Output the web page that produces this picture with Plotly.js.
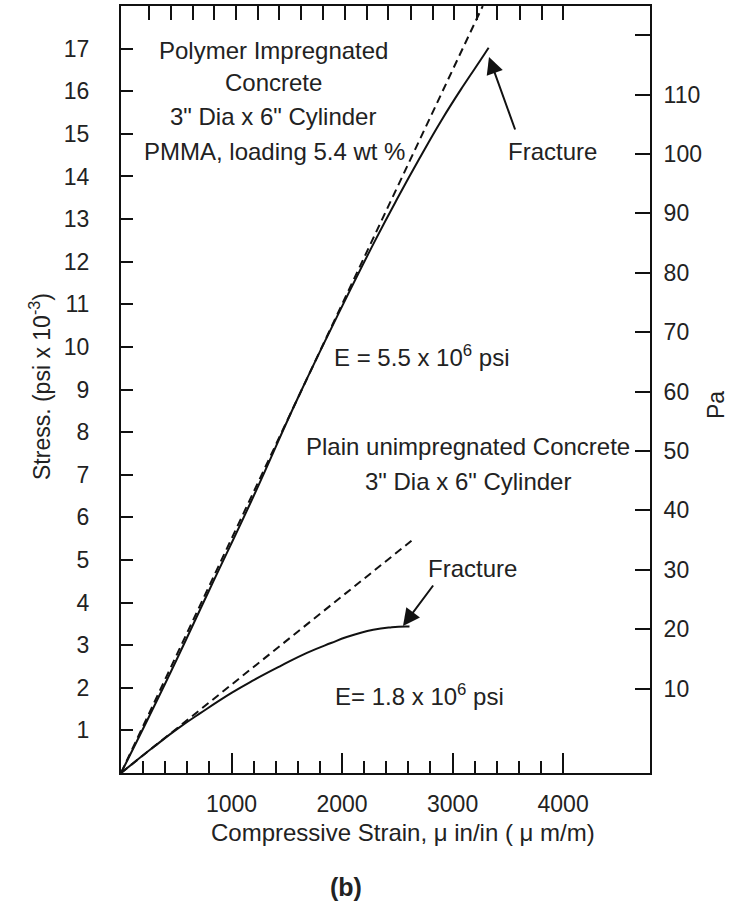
<!DOCTYPE html>
<html>
<head>
<meta charset="utf-8">
<script src="https://cdn.plot.ly/plotly-3.0.1.min.js"></script>
<style>html,body{margin:0;padding:0;background:#fff;}#chart{width:734px;height:903px;}</style>
</head>
<body>
<div id="chart"></div>
<script>
// ---- data ----
const pmmaStrain   = [0, 400, 800, 1200, 1600, 2000, 2300, 2500, 2700, 2900, 3100, 3250, 3326];
const pmmaStress   = [0, 2.1, 4.3, 6.5, 8.8, 10.95, 12.5, 13.48, 14.42, 15.32, 16.14, 16.72, 17.02];
const pmmaTanStrain = [0, 3273];
const pmmaTanStress = [0, 18];
const plainStrain  = [0, 300, 513, 721, 1000, 1201, 1450, 1682, 1900, 2042, 2282, 2450, 2583, 2610];
const plainStress  = [0, 0.62, 1.04, 1.41, 1.88, 2.18, 2.52, 2.82, 3.05, 3.19, 3.36, 3.42, 3.44, 3.44];
const plainTanStrain = [0, 2628];
const plainTanStress = [0, 5.45];

const xMajorTicks = [1000, 2000, 3000, 4000];
const xMinorTicks = [200, 400, 600, 800, 1200, 1400, 1600, 1800, 2200, 2400, 2600, 2800, 3200, 3400, 3600, 3800];
const xTopTicks = [250, 450, 650, 840, 1040, 1240, 1430, 1630, 1830, 2030, 2230, 2420, 2620, 2820, 3010, 3220, 3400, 3610, 3810, 4000];
const yTicks = [1,2,3,4,5,6,7,8,9,10,11,12,13,14,15,16,17];
const paTicks = [10,20,30,40,50,60,70,80,90,100,110,120];
const paLabels = ['10','20','30','40','50','60','70','80','90','100','110',' '];

// ---- layout helpers (pixel -> paper) ----
const L = 121, R = 650, T = 6, B = 773;
const px = x => (x - L) / (R - L);
const py = y => (B - y) / (B - T);

const ink = '#111';
const txt = '#222';
const FONT = 'Liberation Sans, Arial, Helvetica, sans-serif';

const lineStyle = {color: ink, width: 2, shape: 'spline', smoothing: 1.3};
const dashStyle = {color: ink, width: 2, dash: '8px,5px'};

const traces = [
  {x: pmmaTanStrain, y: pmmaTanStress, mode: 'lines', line: dashStyle, hoverinfo: 'skip'},
  {x: pmmaStrain, y: pmmaStress, mode: 'lines', line: lineStyle},
  {x: plainTanStrain, y: plainTanStress, mode: 'lines', line: dashStyle, hoverinfo: 'skip'},
  {x: plainStrain, y: plainStress, mode: 'lines', line: lineStyle}
];

function note(text, x, y, opts) {
  return Object.assign({
    text: text, xref: 'paper', yref: 'paper', x: px(x), y: py(y),
    xanchor: 'center', yanchor: 'middle', showarrow: false,
    font: {family: FONT, size: 24, color: txt}
  }, opts || {});
}
function arrow(hx, hy, tx, ty) {
  return {
    text: ' ', xref: 'paper', yref: 'paper', x: px(hx), y: py(hy),
    ax: tx - hx, ay: ty - hy, showarrow: true,
    font: {size: 2},
    arrowhead: 2, arrowsize: 1.7, arrowwidth: 2, arrowcolor: ink, standoff: 0, startstandoff: 0
  };
}

const axisCommon = {
  showline: true, linewidth: 2, linecolor: ink, showgrid: false, zeroline: false,
  ticks: 'inside', tickwidth: 2, tickcolor: ink, fixedrange: true
};
const tickFont = {family: FONT, size: 23, color: txt};

const layout = {
  width: 734, height: 903,
  margin: {l: L, r: 734 - R, t: T, b: 903 - B, pad: 0},
  paper_bgcolor: '#fff', plot_bgcolor: '#fff',
  showlegend: false,
  font: {family: FONT, size: 23, color: txt},
  xaxis: Object.assign({}, axisCommon, {
    range: [0, 4786], tickmode: 'array', tickvals: xMajorTicks, ticklen: 20,
    tickfont: tickFont, ticklabelstandoff: 9,
    minor: {tickmode: 'array', tickvals: xMinorTicks, ticks: 'inside', ticklen: 12, tickwidth: 2, tickcolor: ink}
  }),
  xaxis2: Object.assign({}, axisCommon, {
    overlaying: 'x', side: 'top', anchor: 'y', range: [0, 4786],
    tickmode: 'array', tickvals: xTopTicks, ticklen: 14, showticklabels: false
  }),
  yaxis: Object.assign({}, axisCommon, {
    range: [0, 18], tickmode: 'array', tickvals: yTicks, ticklen: 12,
    tickfont: tickFont, ticklabelstandoff: 25
  }),
  yaxis2: Object.assign({}, axisCommon, {
    overlaying: 'y', side: 'right', anchor: 'x', range: [-4.2, 124.9],
    tickmode: 'array', tickvals: paTicks, ticktext: paLabels, ticklen: 15,
    tickfont: tickFont, ticklabelstandoff: 7
  }),
  annotations: [
    note('Polymer Impregnated', 273, 50),
    note('Concrete', 273, 82),
    note('3" Dia x 6" Cylinder', 273, 117),
    note('PMMA, loading 5.4 wt %', 274, 152),
    note('Fracture', 552, 152),
    note('E = 5.5 x 10<sup>6</sup> psi', 421, 356),
    note('Plain unimpregnated Concrete', 468, 447),
    note('3" Dia x 6" Cylinder', 468, 482),
    note('Fracture', 472, 568),
    note('E= 1.8 x 10<sup>6</sup> psi', 419, 695),
    note('Compressive Strain, μ in/in ( μ m/m)', 403, 832),
    note('Stress. (psi x 10<sup>-3</sup>)', 40, 387, {textangle: -90, font: {family: FONT, size: 23, color: txt}}),
    note('Pa', 716, 405, {textangle: -90, font: {family: FONT, size: 23, color: txt}}),
    note('<b>(b)</b>', 346, 887, {font: {family: FONT, size: 25, color: txt}}),
    arrow(489, 57, 516, 132),
    arrow(403, 626, 435, 583)
  ]
};

// invisible traces so the overlay axes are drawn
traces.push({x: [0], y: [0], xaxis: 'x2', yaxis: 'y', mode: 'markers', marker: {opacity: 0}, hoverinfo: 'skip'});
traces.push({x: [0], y: [0], xaxis: 'x', yaxis: 'y2', mode: 'markers', marker: {opacity: 0}, hoverinfo: 'skip'});

Plotly.newPlot('chart', traces, layout, {staticPlot: true, displayModeBar: false});
</script>
</body>
</html>
